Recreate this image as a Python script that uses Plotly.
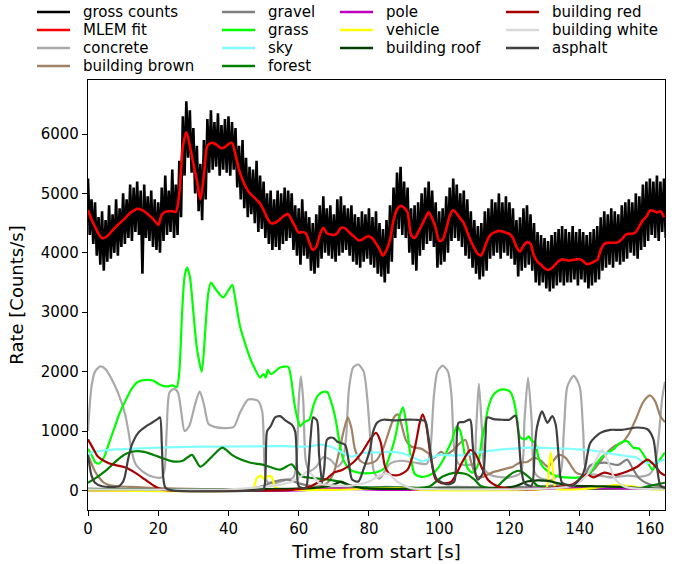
import plotly.graph_objects as go

# ---------------- data ----------------
# gross counts, one value every 0.5 s starting at t = 0
gross_counts = [
    5250, 4300, 4900, 4150, 4850, 3950, 4600, 3800, 4700, 3700, 4550, 3850, 4800, 3900, 4650, 4000, 4900, 3950, 4750, 4100,
    5000, 4150, 4900, 4250, 5150, 4200, 5100, 4350, 5200, 4300, 5050, 3650, 5150, 4250, 4950, 4200, 5050, 4100, 4900, 4050,
    4850, 4000, 5100, 4200, 5300, 4300, 5050, 4350, 5400, 4250, 5150, 4300, 5550, 4600, 6300, 5300, 6550, 5600, 6400, 5350,
    6100, 5000, 5800, 4700, 5500, 4550, 5900, 4900, 6250, 5350, 6400, 5400, 6200, 5450, 6350, 5300, 6150, 5400, 6250, 5350,
    6300, 5300, 6200, 5400, 6100, 5100, 5800, 4900, 5900, 4750, 5600, 4600, 5450, 4650, 5400, 4500, 5550, 4350, 5300, 4400,
    5200, 4250, 5000, 4150, 5050, 4050, 4900, 4100, 5050, 4050, 5000, 4150, 5100, 4200, 5050, 4250, 5000, 4050, 4800, 3950,
    4750, 3800, 4900, 3950, 4700, 3900, 4600, 3700, 4500, 3650, 4650, 3750, 4800, 3900, 4950, 4000, 4750, 3950, 4800, 3900,
    4650, 3850, 4900, 3950, 4950, 4000, 4800, 4050, 4750, 3950, 4800, 3850, 4650, 3800, 4600, 3750, 4700, 3850, 4650, 3900,
    4750, 3800, 4600, 3750, 4700, 3650, 4500, 3600, 4400, 3500, 4550, 3650, 4800, 3850, 5100, 4250, 5350, 4400, 5450, 4300,
    5200, 4250, 5100, 4000, 4750, 3800, 4800, 3700, 4850, 3950, 5000, 4050, 5100, 4150, 5200, 4200, 5050, 4100, 4850, 3750,
    4700, 3800, 4750, 3850, 4950, 4000, 5100, 4200, 5250, 4250, 5150, 4200, 5000, 4100, 5050, 3950, 4900, 3900, 4700, 3750,
    4550, 3650, 4450, 3550, 4500, 3600, 4700, 3700, 4750, 3900, 4900, 3950, 4850, 4000, 5000, 3900, 4850, 4000, 4950, 3950,
    4850, 3900, 4750, 3800, 4550, 3600, 4600, 3700, 4750, 3750, 4800, 3800, 4650, 3700, 4500, 3500, 4350, 3450, 4300, 3500,
    4250, 3400, 4200, 3350, 4300, 3400, 4350, 3450, 4400, 3500, 4450, 3450, 4400, 3500, 4350, 3500, 4450, 3550, 4350, 3450,
    4400, 3550, 4350, 3500, 4300, 3400, 4350, 3450, 4400, 3500, 4450, 3550, 4600, 3700, 4700, 3750, 4650, 3800, 4750, 3750,
    4700, 3850, 4650, 3800, 4800, 3850, 4850, 3900, 4900, 4000, 4850, 3950, 5000, 3900, 4950, 4050, 5150, 4100, 5200, 4200,
    5250, 4300, 5200, 4250, 5300, 4200, 5200, 4350, 5250, 4250,
]
gross_time = [0.5 * i for i in range(len(gross_counts))]

# MLEM fit, one value per second starting at t = 0
mlem_fit = [
    4720, 4560, 4440, 4320, 4250, 4260, 4310, 4380, 4440, 4500,
    4550, 4610, 4670, 4710, 4740, 4730, 4700, 4650, 4600, 4540,
    4470, 4640, 4690, 4700, 4700, 4690, 5000, 5780, 6030, 5800,
    5500, 5220, 4900, 5300, 5800, 5850, 5840, 5800, 5760, 5780,
    5830, 5850, 5650, 5400, 5230, 5100, 5010, 4950, 4890, 4830,
    4720, 4590, 4500, 4500, 4530, 4580, 4630, 4650, 4550, 4440,
    4340, 4350, 4330, 4180, 4050, 4100, 4300, 4420, 4330, 4310,
    4300, 4330, 4420, 4420, 4370, 4310, 4260, 4210, 4220, 4260,
    4280, 4240, 4160, 4060, 3950, 4050, 4220, 4550, 4730, 4790,
    4760, 4680, 4300, 4250, 4350, 4460, 4580, 4680, 4580, 4420,
    4200, 4220, 4400, 4620, 4720, 4660, 4580, 4500, 4350, 4200,
    4080, 3980, 3960, 4100, 4250, 4320, 4350, 4370, 4360, 4340,
    4320, 4250, 4100, 4020, 4120, 4180, 4150, 3950, 3850, 3800,
    3740, 3710, 3740, 3800, 3860, 3890, 3880, 3870, 3880, 3890,
    3890, 3860, 3810, 3820, 3850, 3880, 4050, 4150, 4170, 4170,
    4170, 4180, 4230, 4300, 4320, 4320, 4350, 4450, 4550, 4610,
    4710, 4710, 4680, 4700, 4600,
]
mlem_time = list(range(len(mlem_fit)))

concrete_t = [0, 1, 2, 3.5, 5, 6.5, 8.5, 10.5, 11.5, 12.3, 13.5, 16, 18, 21, 21.8, 22.4, 23.2, 24.5, 25.6, 26.5,
              27.5, 28.8, 30.5, 31.8, 33, 34.3, 36, 39, 41.5, 43.3, 45.6, 48.4, 49.6, 50.3, 51, 53, 56, 58.5, 59.4, 60,
              60.6, 61.3, 62, 63, 65, 67, 69, 71, 72.5, 73.5, 74.3, 75.5, 77, 78.5, 79.6, 80.5, 81.5, 83, 86, 89,
              93, 96.5, 97.5, 98.5, 99.5, 101, 102.5, 103.5, 104.3, 105.5, 108, 109.8, 110.5, 111.3, 112.2, 113, 115, 120, 123.2, 124.3,
              125.3, 126.3, 127.2, 129, 132, 134.5, 135.5, 136.5, 138.3, 140, 141, 142, 145, 149, 154, 157, 160, 161.5, 162.5, 163.5, 164.3]
concrete_v = [1000, 1750, 2000, 2090, 2040, 1900, 1650, 1300, 1000, 700, 450, 300, 240, 220, 350, 1000, 1650, 1710, 1650, 1350,
              1000, 1080, 1450, 1670, 1450, 1120, 1070, 1050, 1070, 1310, 1530, 1510, 1330, 400, 150, 120, 170, 220, 500, 1500,
              1920, 1500, 500, 330, 400, 560, 520, 400, 500, 900, 1700, 2070, 2120, 2000, 1500, 800, 300, 200, 450, 500,
              470, 450, 700, 1600, 2000, 2100, 2000, 1600, 700, 450, 430, 450, 1000, 1800, 1000, 350, 250, 220, 300, 1200,
              1900, 1200, 300, 200, 180, 300, 1000, 1750, 1930, 1750, 1000, 300, 260, 220, 250, 230, 280, 450, 900, 1550, 1830]

brown_t = [0, 1, 2, 3, 4.5, 6, 8, 12, 16, 20, 25, 40, 55, 60, 65, 68, 70, 71.5, 73, 74,
           75, 76, 77.5, 79.5, 82, 84, 86, 87.3, 88.3, 89.3, 90.5, 92, 95, 97, 98.5, 100.5, 102, 104, 106, 107.5,
           109, 110.5, 112, 115, 118, 121, 123, 125, 127, 129, 131, 134, 136, 139, 142, 144, 146, 148, 150, 152,
           154, 156, 158, 160, 161.5, 163, 164.3]
brown_v = [600, 450, 320, 230, 130, 90, 70, 60, 50, 40, 30, 20, 20, 30, 60, 120, 300, 650, 1050, 1230,
           1050, 700, 500, 450, 500, 700, 1050, 1250, 1280, 1100, 850, 740, 700, 620, 550, 650, 600, 680, 800, 850,
           500, 250, 220, 300, 350, 400, 470, 480, 550, 500, 400, 600, 550, 300, 260, 350, 500, 650, 750, 800,
           950, 1200, 1480, 1600, 1500, 1250, 1150]

gravel_t = [0, 10, 20, 45, 50, 53, 57, 60, 65, 75, 85, 95, 105, 115, 125, 132, 138, 141, 143, 147, 151, 153.5, 155, 157, 160, 164.3]
gravel_v = [30, 20, 15, 20, 80, 150, 180, 120, 60, 40, 60, 40, 60, 50, 60, 80, 100, 200, 420, 470, 430, 520, 380, 200, 100, 60]

grass_t = [0, 1, 2, 3, 4.5, 6, 7.5, 9, 11, 12.5, 14.3, 16.5, 18.5, 20.5, 22.5, 24, 25.3, 26, 26.8, 27.5,
           28.2, 29, 30, 31, 32.4, 33.4, 34.2, 35, 36.2, 37.5, 38.5, 39.8, 41.1, 42, 43.3, 44.6, 46, 47.5, 49, 50,
           50.6, 51.2, 52, 53, 54.7, 57, 57.8, 58.8, 59.7, 60.4, 61.5, 63, 64.3, 65.5, 67, 68.2, 69.2, 70.5, 71.5, 72.7,
           74.6, 77, 80, 82.5, 84.5, 86, 87.5, 88.7, 89.7, 90.7, 91.7, 93, 95, 97, 99, 101, 102.5, 103.7, 105, 106,
           107, 108, 109.5, 111, 112, 113, 114, 115.3, 116.8, 118.5, 120.2, 121.3, 122.2, 123, 124.5, 125.5, 126.3, 127.3, 128.3, 129.5,
           131, 133, 136, 140, 143, 145, 147, 149.6, 151.5, 153.5, 155.3, 157, 159, 160.7, 162, 164.3]
grass_v = [700, 600, 480, 450, 550, 800, 1050, 1300, 1550, 1720, 1830, 1860, 1850, 1780, 1750, 1770, 1740, 2000, 3000, 3600,
           3750, 3600, 3000, 2400, 2000, 2700, 3300, 3500, 3400, 3300, 3250, 3350, 3460, 3200, 2760, 2500, 2250, 2050, 1900, 1960,
           1900, 2030, 1960, 1990, 2070, 2080, 1900, 1450, 1200, 1080, 1150, 1190, 1450, 1600, 1660, 1650, 1500, 1200, 850, 520,
           350, 300, 290, 310, 380, 600, 900, 1250, 1400, 1100, 640, 280, 230, 250, 330, 500, 700, 850, 1080, 1000,
           700, 380, 300, 420, 800, 1100, 1400, 1600, 1680, 1700, 1660, 1500, 1200, 900, 860, 910, 840, 800, 550, 400,
           320, 250, 220, 220, 300, 470, 600, 690, 800, 830, 720, 700, 520, 350, 450, 640]

sky_t = [0, 1, 3, 8, 15, 25, 40, 55, 63, 66, 69, 72, 75, 78, 82, 86, 90, 92.6, 95.4, 97.5,
         100, 104, 108, 112, 116, 120, 126, 133, 140, 145, 150, 153, 156, 158, 161, 164.3]
sky_v = [560, 640, 660, 690, 710, 730, 740, 745, 740, 770, 740, 650, 570, 630, 640, 650, 620, 550, 490, 540,
         600, 590, 600, 650, 680, 700, 720, 710, 690, 660, 610, 580, 560, 480, 460, 520]

forest_t = [0, 2.5, 4.8, 8.5, 11, 13.4, 16, 20, 24, 27, 29.6, 32, 35.3, 38.2, 41, 42.4, 46, 50, 54.7, 58,
            59.5, 61, 64, 68, 72, 75, 80, 90, 97, 101, 104.6, 108, 110, 112, 116, 118, 121, 123, 126, 128,
            135, 150, 158, 161, 164.3]
forest_v = [130, 220, 320, 520, 620, 660, 650, 570, 490, 500, 600, 400, 570, 720, 600, 550, 470, 430, 350, 440,
            330, 235, 210, 185, 140, 70, 50, 50, 60, 235, 300, 270, 185, 70, 40, 150, 300, 330, 200, 80,
            40, 30, 50, 90, 130]

pole_t = [0, 60, 66, 72, 78, 85, 100, 120, 128, 135, 145, 155, 164.3]
pole_v = [0, 0, 20, 30, 20, 10, 10, 15, 30, 40, 35, 30, 20]

vehicle_t = [0, 45, 47, 48, 49.2, 50.3, 51.3, 52.3, 53.3, 55, 70, 88, 95, 125, 130.5, 131.2, 131.8, 132.4, 133.2, 140,
             145, 150, 155, 160, 164.3]
vehicle_v = [0, 0, 30, 200, 250, 180, 240, 230, 60, 20, 10, 40, 10, 10, 40, 350, 640, 350, 40, 20,
             50, 90, 70, 20, 10]

roof_t = [0, 40, 60, 66, 70, 72, 74, 78, 100, 118, 122, 125, 128, 131, 134, 138, 145, 152, 158, 164.3]
roof_v = [20, 20, 30, 50, 100, 150, 100, 40, 30, 40, 80, 150, 170, 160, 120, 80, 70, 60, 40, 30]

red_t = [0, 1.5, 2.8, 4.5, 6.8, 10.5, 13.4, 16.2, 19, 21, 25, 55, 60, 63, 66, 68, 70, 72.5, 75.5, 78,
         80.3, 82, 83.3, 84.6, 86, 88.5, 91, 93, 94.5, 95.3, 96.3, 97.5, 99, 101, 103.5, 106.5, 108.8, 110.3, 112, 114,
         117, 122, 128, 134, 138, 142, 144, 147, 150, 153.5, 156.4, 159.3, 161.2, 163, 164.3]
red_v = [860, 700, 570, 500, 440, 390, 300, 185, 70, 15, 0, 0, 20, 60, 150, 200, 300, 350, 470, 640,
         860, 970, 820, 400, 270, 260, 350, 700, 1150, 1280, 1100, 600, 185, 120, 150, 470, 680, 620, 400, 170,
         60, 20, 20, 60, 100, 270, 220, 300, 260, 320, 400, 520, 430, 300, 250]

white_t = [0, 40, 50, 55, 58, 61, 62.5, 64, 66, 75, 80, 83, 85.5, 88, 92, 100, 130, 138, 142, 144.5,
           146.4, 148, 150, 153, 164.3]
white_v = [20, 20, 60, 100, 150, 250, 320, 250, 120, 80, 150, 250, 280, 150, 40, 20, 30, 80, 250, 500,
           680, 500, 200, 60, 20]

asphalt_t = [0, 1, 2, 4, 8.8, 10, 10.5, 11.4, 12.5, 14.3, 16.5, 18.2, 19.8, 20.5, 21, 21.4, 22, 24, 48, 50,
             50.6, 51, 52, 53.3, 54.7, 56.4, 58, 59, 59.5, 60, 62, 62.8, 63.4, 64.1, 65.2, 65.8, 66.7, 67.3, 68, 69,
             70, 71, 73.2, 74.2, 75.2, 77, 78.4, 80.3, 81.2, 82.3, 84, 87.5, 90, 93, 96, 96.8, 97.4, 98.3, 99.4, 102.6,
             104.3, 104.9, 105.5, 107, 108.8, 109.5, 110.3, 111, 112.5, 113.2, 113.7, 115.5, 118, 120, 121.7, 122.5, 123.3, 124.3, 126.3, 127.2,
             127.8, 129.3, 130.8, 132.2, 133.2, 134, 135, 138, 140.7, 141.6, 143, 145.9, 148.7, 152, 156.4, 159.3, 161, 162, 163, 164.3]
asphalt_v = [600, 250, 130, 70, 70, 150, 235, 520, 770, 970, 1080, 1140, 1200, 1230, 800, 235, 50, 0, 0, 20,
             400, 1000, 1080, 1230, 1250, 1170, 1110, 990, 400, 70, 40, 400, 900, 1230, 1180, 600, 130, 400, 850, 890,
             880, 820, 770, 500, 185, 150, 350, 690, 990, 1140, 1190, 1180, 1190, 1190, 1170, 950, 700, 350, 185, 100,
             150, 700, 1140, 1150, 1190, 800, 300, 180, 300, 900, 1230, 1200, 1190, 1190, 1260, 1000, 400, 120, 80, 700,
             1050, 1330, 1140, 1250, 1100, 600, 130, 80, 250, 400, 800, 970, 1020, 1020, 1060, 1030, 860, 400, 80, 40]

x_ticks = [0, 20, 40, 60, 80, 100, 120, 140, 160]
y_ticks = [0, 1000, 2000, 3000, 4000, 5000, 6000]

# ---------------- figure ----------------
FONT = "DejaVu Sans"
FS = 15
LEG_FS = 15
components = [
    ("concrete", concrete_t, concrete_v, "#a9a9a9"),
    ("building brown", brown_t, brown_v, "#a08264"),
    ("gravel", gravel_t, gravel_v, "#7f7f7f"),
    ("grass", grass_t, grass_v, "#00ff00"),
    ("sky", sky_t, sky_v, "#80ffff"),
    ("forest", forest_t, forest_v, "#008000"),
    ("pole", pole_t, pole_v, "#bf00bf"),
    ("vehicle", vehicle_t, vehicle_v, "#ffff00"),
    ("building roof", roof_t, roof_v, "#003f00"),
    ("building red", red_t, red_v, "#a80000"),
    ("building white", white_t, white_v, "#d9d9d9"),
    ("asphalt", asphalt_t, asphalt_v, "#404040"),
]

fig = go.Figure()
fig.add_trace(go.Scatter(x=gross_time, y=gross_counts, mode="lines", name="gross counts",
                         line=dict(color="black", width=2.6), showlegend=False))
fig.add_trace(go.Scatter(x=mlem_time, y=mlem_fit, mode="lines", name="MLEM fit",
                         line=dict(color="#ff0000", width=2.6, shape="spline", smoothing=0.8), showlegend=False))
for name, t, v, c in components:
    fig.add_trace(go.Scatter(x=t, y=v, mode="lines", name=name,
                             line=dict(color=c, width=2.2, shape="spline", smoothing=0.7), showlegend=False))

# legend drawn in four columns (matplotlib-style column order)
legend_cols = [
    [("gross counts", "black"), ("MLEM fit", "#ff0000"), ("concrete", "#a9a9a9"), ("building brown", "#a08264")],
    [("gravel", "#7f7f7f"), ("grass", "#00ff00"), ("sky", "#80ffff"), ("forest", "#008000")],
    [("pole", "#bf00bf"), ("vehicle", "#ffff00"), ("building roof", "#003f00")],
    [("building red", "#a80000"), ("building white", "#d9d9d9"), ("asphalt", "#404040")],
]
col_x = [37, 222, 340, 506]
row_y = [12, 30, 48, 66]
L, R, T, B = 88, 21, 80, 54
W, H = 686, 564
pw, ph = W - L - R, H - T - B

def px2paper_x(px):
    return (px - L) / pw

def px2paper_y(py):
    return (H - B - py) / ph

shapes = []
annotations = []
for ci, col in enumerate(legend_cols):
    for ri, (label, color) in enumerate(col):
        y = px2paper_y(row_y[ri])
        shapes.append(dict(type="line", xref="paper", yref="paper",
                           x0=px2paper_x(col_x[ci]), x1=px2paper_x(col_x[ci] + 33), y0=y, y1=y,
                           line=dict(color=color, width=2.4)))
        annotations.append(dict(text=label, xref="paper", yref="paper", x=px2paper_x(col_x[ci] + 45), y=y,
                                xanchor="left", yanchor="middle", showarrow=False, borderpad=0,
                                font=dict(family=FONT, size=LEG_FS, color="black")))

fig.update_layout(
    width=W, height=H,
    margin=dict(l=L, r=R, t=T, b=B, autoexpand=False),
    paper_bgcolor="white", plot_bgcolor="white",
    font=dict(family=FONT, size=FS, color="black"),
    shapes=shapes, annotations=annotations,
    showlegend=False,
)
fig.update_xaxes(range=[0, 164.3], tickvals=x_ticks, ticks="outside", ticklen=5, tickwidth=1.2,
                 tickcolor="black", showline=True, linecolor="black", linewidth=1.2, mirror=True,
                 showgrid=False, zeroline=False, automargin=False,
                 title=dict(text="Time from start [s]", standoff=8), tickfont=dict(size=FS))
fig.update_yaxes(range=[-329, 6909], tickvals=y_ticks, ticks="outside", ticklen=5, tickwidth=1.2,
                 tickcolor="black", showline=True, linecolor="black", linewidth=1.2, mirror=True,
                 showgrid=False, zeroline=False, automargin=False,
                 title=dict(text="Rate [Counts/s]", standoff=12), tickfont=dict(size=FS))

fig.write_html("out.html", config={"displayModeBar": False},
               post_script="document.body.style.margin='0';document.body.style.padding='0';")
